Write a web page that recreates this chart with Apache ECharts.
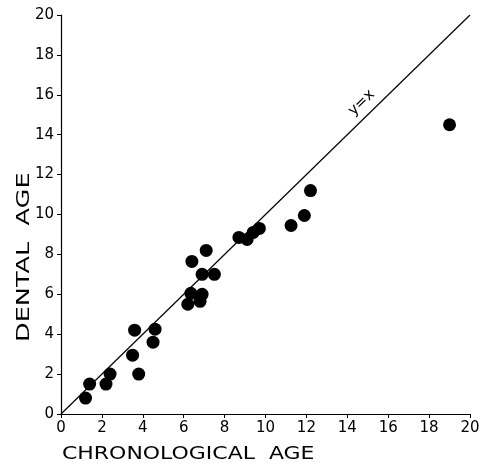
<!DOCTYPE html>
<html>
<head>
<meta charset="utf-8">
<script src="https://cdn.jsdelivr.net/npm/echarts@6/dist/echarts.min.js"></script>
<style>
  html, body { margin: 0; padding: 0; background: #fff; }
  #chart { width: 491px; height: 463px; }
</style>
</head>
<body>
<div id="chart"></div>
<script>
// chronological age vs dental age
const chronoAge = [1.2, 1.4, 2.2, 2.4, 3.8, 3.5, 3.6, 4.5, 4.6, 6.2, 6.35, 6.8, 6.9,
  6.9, 7.5, 6.4, 7.1, 8.7, 9.1, 9.4, 9.7, 11.25, 11.9, 12.2, 19.0]
const dentalAge = [0.8, 1.5, 1.5, 2.0, 2.0, 2.95, 4.2, 3.6, 4.25, 5.5, 6.05, 5.65, 6.0,
  7.0, 7.0, 7.65, 8.2, 8.85, 8.75, 9.1, 9.3, 9.45, 9.95, 11.2, 14.5]
const identityLine = [[0, 0], [20, 20]]
const identityLabelAt = [14.7, 15.6]
const tickLabels = ["0", "2", "4", "6", "8", "10", "12", "14", "16", "18", "20"]

const font = "DejaVu Sans"

const axisCommon = {
  type: "value",
  min: 0,
  max: 20,
  interval: 2,
  axisLine: { lineStyle: { color: "#000", width: 1.2 } },
  axisTick: { show: true, inside: false, length: 4, lineStyle: { color: "#000" } },
  splitLine: { show: false },
  axisLabel: {
    color: "#000",
    fontFamily: font,
    fontSize: 15,
    margin: 7,
    formatter: (v) => tickLabels[Math.round(v / 2)],
  },
}

const chart = echarts.init(document.getElementById("chart"))

const option = {
  backgroundColor: "#fff",
  animation: false,
  grid: { left: 61, right: 21, top: 15, bottom: 49 },
  xAxis: { ...axisCommon },
  yAxis: { ...axisCommon },
  graphic: [
    {
      // axis titles are letter-spaced in the original, so stretch them
      type: "text",
      x: 62,
      y: 445,
      scaleX: 1.22,
      style: {
        text: "CHRONOLOGICAL  AGE",
        fill: "#000",
        font: "18px " + font,
      },
    },
    {
      type: "text",
      x: 15,
      y: 342,
      rotation: Math.PI / 2,
      scaleX: 1.42,
      style: {
        text: "DENTAL  AGE",
        fill: "#000",
        font: "18px " + font,
      },
    },
  ],
  series: [
    {
      type: "line",
      data: identityLine,
      symbol: "none",
      lineStyle: { color: "#000", width: 1.2 },
      z: 1,
    },
    {
      type: "scatter",
      data: chronoAge.map((x, i) => [x, dentalAge[i]]),
      symbol: "circle",
      symbolSize: 13,
      itemStyle: { color: "#000", opacity: 1 },
      z: 3,
    },
    {
      type: "scatter",
      data: [identityLabelAt],
      symbolSize: 0,
      itemStyle: { opacity: 1 },
      label: {
        show: true,
        position: "inside",
        formatter: "y=x",
        rotate: 44,
        color: "#000",
        opacity: 1,
        fontFamily: font,
        fontSize: 15,
      },
    },
  ],
}

chart.setOption(option)
</script>
</body>
</html>
